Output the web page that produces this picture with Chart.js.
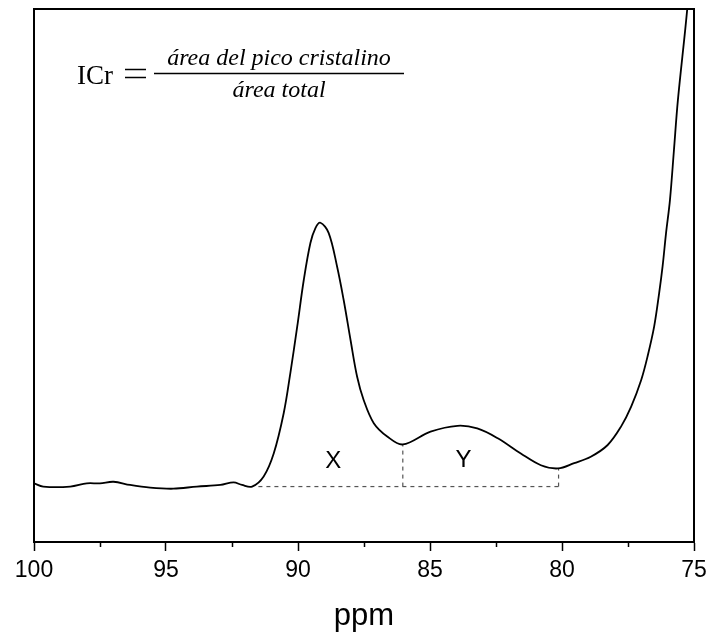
<!DOCTYPE html>
<html>
<head>
<meta charset="utf-8">
<script src="https://cdn.jsdelivr.net/npm/chart.js@4"></script>
<style>
  body { margin: 0; background: #fff; }
</style>
</head>
<body>
<canvas id="nmrChart" width="709" height="637"></canvas>
<script>
// C4 region of the 13C CP/MAS spectrum (chemical shift in ppm, intensity in a.u.)
const ppm = [100.0, 99.65, 98.63, 98.0, 97.5, 96.99, 96.36, 95.6, 94.72, 93.83, 92.94, 92.44, 92.12, 91.74,
  91.3, 90.92, 90.54, 90.29, 90.03, 89.78, 89.53, 89.34, 89.15, 88.84, 88.52, 88.27, 88.01, 87.76, 87.51,
  87.13, 86.62, 86.03, 84.98, 83.96, 83.21, 82.45, 81.56, 80.8, 80.15, 79.54, 78.91, 78.27, 77.77, 77.38,
  77.0, 76.76, 76.51, 76.32, 76.19, 76.06, 75.91, 75.76, 75.61, 75.26, 75.18];
const intensity = [11.0, 10.4, 10.4, 11.0, 11.0, 11.3, 10.7, 10.2, 10.0, 10.4, 10.7, 11.2, 10.7, 10.4,
  12.3, 16.6, 24.2, 31.7, 40.4, 49.2, 56.1, 58.9, 59.9, 58.0, 51.7, 45.4, 37.9, 31.0, 26.6,
  22.3, 19.8, 18.3, 20.7, 21.8, 21.3, 19.5, 16.6, 14.4, 13.8, 14.8, 16.0, 18.2, 21.6, 25.4,
  30.4, 34.8, 40.4, 46.7, 51.7, 57.9, 64.2, 73.5, 82.9, 99.8, 106];

// integration limits: crystalline (X) and amorphous (Y) areas
const baseLevel = 10.4;
const limitStart = 91.5;
const limitSplit = 86.03;
const limitEnd = 80.13;
const splitTop = 18.3;
const endTop = 13.8;
const areaLabels = [{ text: 'X', x: 88.66, y: 15.1 }, { text: 'Y', x: 83.73, y: 15.4 }];

const xTicks = [100, 95, 90, 85, 80, 75];
const xMinorTicks = [97.5, 92.5, 87.5, 82.5, 77.5];

const spectrum = ppm.map((p, i) => ({ x: p, y: intensity[i] }));
const dashStyle = {
  borderColor: '#555',
  borderWidth: 1.2,
  borderDash: [4, 4],
  pointRadius: 0,
  tension: 0,
  fill: false
};

const decorations = {
  id: 'decorations',
  afterDraw(chart) {
    const { ctx, chartArea: a, scales } = chart;
    const xs = scales.x, ys = scales.y;
    ctx.save();
    // frame
    ctx.strokeStyle = '#000';
    ctx.lineWidth = 2;
    ctx.strokeRect(a.left, a.top, a.right - a.left, a.bottom - a.top);
    // minor ticks
    ctx.lineWidth = 1.5;
    xMinorTicks.forEach(v => {
      const px = Math.round(xs.getPixelForValue(v)) + 0.5;
      ctx.beginPath();
      ctx.moveTo(px, a.bottom);
      ctx.lineTo(px, a.bottom + 5);
      ctx.stroke();
    });
    // area labels
    ctx.fillStyle = '#000';
    ctx.font = '24px "Liberation Sans", Arial, sans-serif';
    ctx.textAlign = 'center';
    ctx.textBaseline = 'middle';
    areaLabels.forEach(l => {
      ctx.fillText(l.text, xs.getPixelForValue(l.x), ys.getPixelForValue(l.y));
    });
    // crystallinity index formula
    const serif = '"Liberation Serif", "DejaVu Serif", serif';
    ctx.textBaseline = 'alphabetic';
    ctx.textAlign = 'left';
    ctx.font = `27px ${serif}`;
    ctx.fillText('ICr', 77, 84);
    ctx.lineWidth = 1.6;
    ctx.beginPath();
    ctx.moveTo(125, 69.5); ctx.lineTo(146, 69.5);
    ctx.moveTo(125, 77.5); ctx.lineTo(146, 77.5);
    ctx.stroke();
    ctx.textAlign = 'center';
    ctx.font = `italic 24px ${serif}`;
    ctx.fillText('área del pico cristalino', 279, 65);
    ctx.fillText('área total', 279, 97);
    ctx.lineWidth = 1.3;
    ctx.beginPath();
    ctx.moveTo(154, 73.5);
    ctx.lineTo(404, 73.5);
    ctx.stroke();
    ctx.restore();
  }
};

new Chart(document.getElementById('nmrChart'), {
  type: 'line',
  data: {
    datasets: [
      {
        data: spectrum,
        borderColor: '#000',
        borderWidth: 1.8,
        pointRadius: 0,
        tension: 0.35,
        fill: false
      },
      { ...dashStyle, data: [{ x: limitStart, y: baseLevel }, { x: limitEnd, y: baseLevel }] },
      { ...dashStyle, data: [{ x: limitSplit, y: baseLevel }, { x: limitSplit, y: splitTop }] },
      { ...dashStyle, data: [{ x: limitEnd, y: baseLevel }, { x: limitEnd, y: endTop }] }
    ]
  },
  options: {
    responsive: false,
    animation: false,
    layout: { padding: { left: 34, right: 15, top: 9, bottom: 0 } },
    plugins: { legend: { display: false }, tooltip: { enabled: false } },
    scales: {
      x: {
        type: 'linear',
        reverse: true,
        min: 75,
        max: 100,
        afterBuildTicks: scale => { scale.ticks = xTicks.map(v => ({ value: v })); },
        afterFit: scale => {
          scale.height = 95;
          scale.paddingLeft = 0;
          scale.paddingRight = 0;
        },
        grid: { drawOnChartArea: false, tickLength: 9, tickWidth: 1.5, tickColor: '#000' },
        border: { display: true, color: '#000', width: 2 },
        ticks: {
          color: '#000',
          padding: 6,
          maxRotation: 0,
          font: { family: '"Liberation Sans", Arial, sans-serif', size: 23 }
        },
        title: {
          display: true,
          text: 'ppm',
          color: '#000',
          padding: { top: 10, bottom: 2 },
          font: { family: '"Liberation Sans", Arial, sans-serif', size: 31 }
        }
      },
      y: {
        display: false,
        min: 0,
        max: 100
      }
    }
  },
  plugins: [decorations]
});
</script>
</body>
</html>
